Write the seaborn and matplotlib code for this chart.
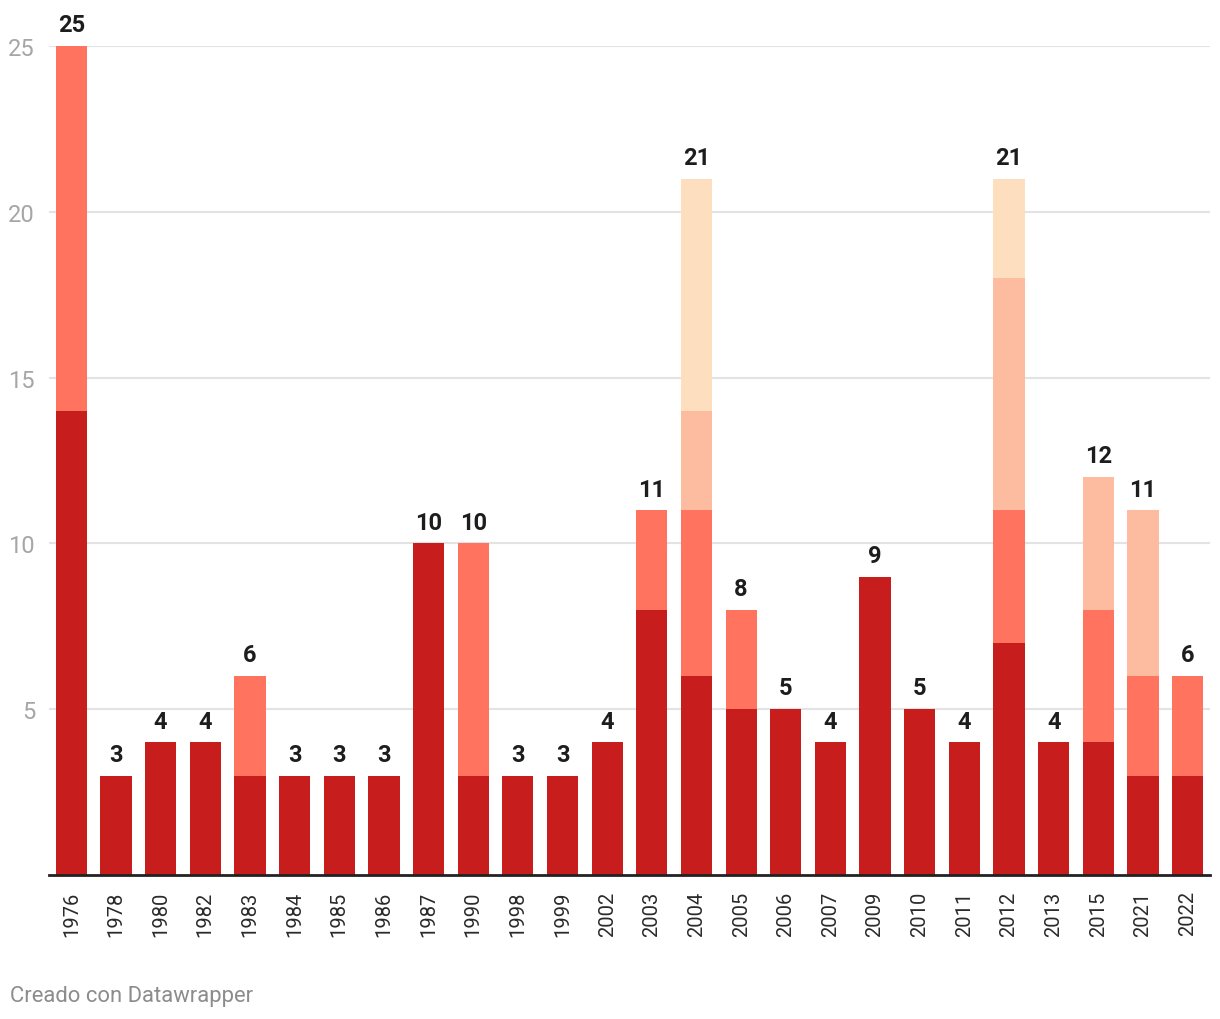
import pandas as pd
import seaborn as sns
import matplotlib.pyplot as plt
import numpy as np

# years and stacked segment values (bottom -> top)
years = ['1976', '1978', '1980', '1982', '1983', '1984', '1985', '1986', '1987', '1990',
         '1998', '1999', '2002', '2003', '2004', '2005', '2006', '2007', '2009', '2010',
         '2011', '2012', '2013', '2015', '2021', '2022']
seg1 = [14, 3, 4, 4, 3, 3, 3, 3, 10, 3, 3, 3, 4, 8, 6, 5, 5, 4, 9, 5, 4, 7, 4, 4, 3, 3]
seg2 = [11, 0, 0, 0, 3, 0, 0, 0, 0, 7, 0, 0, 0, 3, 5, 3, 0, 0, 0, 0, 0, 4, 0, 4, 3, 3]
seg3 = [0, 0, 0, 0, 0, 0, 0, 0, 0, 0, 0, 0, 0, 0, 3, 0, 0, 0, 0, 0, 0, 7, 0, 4, 5, 0]
seg4 = [0, 0, 0, 0, 0, 0, 0, 0, 0, 0, 0, 0, 0, 0, 7, 0, 0, 0, 0, 0, 0, 3, 0, 0, 0, 0]
colors = ['#c71e1d', '#ff735f', '#fdbca0', '#fddfbf']

df = pd.DataFrame({'year': years, 's1': seg1, 's2': seg2, 's3': seg3, 's4': seg4})
# cumulative heights so layers can be drawn from top to bottom
cum = df[['s1', 's2', 's3', 's4']].cumsum(axis=1)

sns.set_style('white')
plt.rcParams['font.family'] = ['Roboto', 'DejaVu Sans']

fig = plt.figure(figsize=(12.2, 10.2), dpi=100)
ax = fig.add_axes([49 / 1220, 1 - 876 / 1020, (1210 - 49) / 1220, (876 - 47) / 1020])

for col, c in zip(['s4', 's3', 's2', 's1'], colors[::-1]):
    sns.barplot(x=df['year'], y=cum[col], color=c, width=0.7, ax=ax,
                saturation=1, linewidth=0, zorder=3)

ax.set_xlim(-0.5, len(years) - 0.5)
ax.set_ylim(0, 25)
ax.set_yticks([5, 10, 15, 20, 25])
ax.grid(axis='y', color='#e3e3e3', linewidth=1.5, zorder=0)
ax.set_axisbelow(True)
for s in ['top', 'right', 'left']:
    ax.spines[s].set_visible(False)
ax.spines['bottom'].set_color('#222222')
ax.spines['bottom'].set_linewidth(2)
ax.spines['bottom'].set_zorder(5)
ax.set_xlabel('')
ax.set_ylabel('')
ax.tick_params(axis='y', length=0, pad=10, labelsize=17, labelcolor='#a6a6a6')
ax.tick_params(axis='x', length=0, pad=11, labelsize=14.5, labelcolor='#2a2a2a',
               labelrotation=90)

totals = cum['s4']
for i, t in enumerate(totals):
    ax.annotate(str(t), (i, t), xytext=(0, 7), textcoords='offset points',
                ha='center', va='bottom', fontsize=17, fontweight='bold',
                color='#1d1d1d', annotation_clip=False)

fig.text(10 / 1220, 1 - 997 / 1020, 'Creado con Datawrapper', fontsize=15.8,
         color='#8c8c8c', ha='left', va='center')

fig.savefig('out.png', dpi=100)
